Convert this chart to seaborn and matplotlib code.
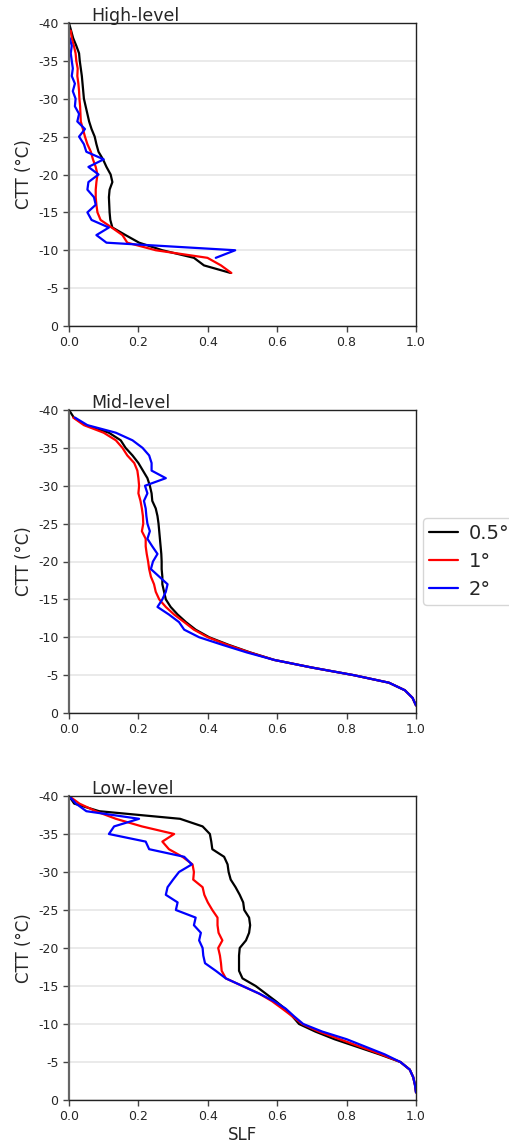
import numpy as np
import pandas as pd
import matplotlib
matplotlib.use("Agg")
import matplotlib.pyplot as plt
import seaborn as sns

# ---------------- data ----------------
resolutions = ["0.5°", "1°", "2°"]
colors = ["black", "red", "blue"]
panel_titles = ["High-level", "Mid-level", "Low-level"]
yticks = [0, -5, -10, -15, -20, -25, -30, -35, -40]
xticks = [0.0, 0.2, 0.4, 0.6, 0.8, 1.0]

# High-level
high_ctt_05 = list(range(-40, -6))
high_slf_05 = [0.000, 0.006, 0.012, 0.021, 0.029, 0.031, 0.034, 0.037, 0.039, 0.041,
               0.043, 0.048, 0.053, 0.058, 0.065, 0.074, 0.079, 0.085, 0.098, 0.108,
               0.120, 0.125, 0.117, 0.115, 0.116, 0.117, 0.119, 0.125, 0.163, 0.202,
               0.269, 0.360, 0.389, 0.466]
high_ctt_1 = list(range(-39, -6))
high_slf_1 = [0.005, 0.008, 0.014, 0.019, 0.021, 0.025, 0.024, 0.027, 0.029, 0.030,
              0.032, 0.033, 0.034, 0.040, 0.046, 0.053, 0.063, 0.069, 0.077, 0.082,
              0.079, 0.077, 0.077, 0.079, 0.082, 0.091, 0.123, 0.154, 0.168, 0.250,
              0.399, 0.438, 0.468]
high_ctt_2 = list(range(-38, -8))
high_slf_2 = [0.002, 0.008, 0.005, 0.008, 0.011, 0.008, 0.017, 0.011, 0.019, 0.017,
              0.029, 0.024, 0.046, 0.029, 0.043, 0.050, 0.100, 0.056, 0.085, 0.056,
              0.053, 0.072, 0.077, 0.053, 0.065, 0.115, 0.079, 0.108, 0.479, 0.423]

# Mid-level
mid_ctt_05 = list(range(-40, 0))
mid_slf_05 = [0.000, 0.014, 0.048, 0.115, 0.149, 0.163, 0.183, 0.200, 0.213, 0.226,
              0.233, 0.238, 0.240, 0.250, 0.255, 0.258, 0.260, 0.262, 0.264, 0.266,
              0.267, 0.267, 0.269, 0.269, 0.274, 0.279, 0.293, 0.313, 0.337, 0.365,
              0.404, 0.460, 0.522, 0.592, 0.700, 0.820, 0.922, 0.968, 0.990, 1.000]
mid_ctt_1 = list(range(-39, 0))
mid_slf_1 = [0.012, 0.043, 0.100, 0.135, 0.154, 0.168, 0.188, 0.197, 0.200, 0.202,
             0.200, 0.206, 0.210, 0.213, 0.214, 0.210, 0.221, 0.221, 0.224, 0.228,
             0.231, 0.236, 0.245, 0.250, 0.260, 0.279, 0.303, 0.332, 0.360, 0.400,
             0.456, 0.520, 0.592, 0.700, 0.820, 0.922, 0.968, 0.990, 1.000]
mid_ctt_2 = list(range(-39, 0))
mid_slf_2 = [0.017, 0.053, 0.135, 0.183, 0.212, 0.231, 0.238, 0.238, 0.279, 0.219,
             0.226, 0.216, 0.221, 0.223, 0.226, 0.233, 0.226, 0.240, 0.255, 0.242,
             0.236, 0.260, 0.284, 0.279, 0.269, 0.255, 0.288, 0.317, 0.332, 0.375,
             0.442, 0.512, 0.592, 0.700, 0.820, 0.922, 0.968, 0.990, 1.000]

# Low-level
low_ctt_05 = list(range(-40, 0))
low_slf_05 = [0.000, 0.015, 0.087, 0.320, 0.385, 0.406, 0.410, 0.413, 0.447, 0.457,
              0.460, 0.466, 0.480, 0.492, 0.502, 0.505, 0.519, 0.522, 0.519, 0.510,
              0.492, 0.490, 0.490, 0.490, 0.500, 0.538, 0.567, 0.596, 0.623, 0.644,
              0.663, 0.710, 0.765, 0.830, 0.895, 0.955, 0.982, 0.992, 0.997, 1.000]
low_ctt_1 = list(range(-40, 0))
low_slf_1 = [0.000, 0.030, 0.077, 0.135, 0.210, 0.303, 0.269, 0.288, 0.327, 0.356,
             0.360, 0.358, 0.385, 0.390, 0.400, 0.413, 0.428, 0.428, 0.431, 0.442,
             0.430, 0.435, 0.438, 0.440, 0.452, 0.500, 0.548, 0.585, 0.615, 0.644,
             0.672, 0.720, 0.780, 0.840, 0.900, 0.955, 0.982, 0.992, 0.997, 1.000]
low_ctt_2 = list(range(-40, 0))
low_slf_2 = [0.000, 0.020, 0.050, 0.202, 0.130, 0.115, 0.221, 0.231, 0.332, 0.354,
             0.317, 0.300, 0.284, 0.279, 0.313, 0.308, 0.365, 0.360, 0.380, 0.375,
             0.385, 0.387, 0.392, 0.423, 0.452, 0.500, 0.548, 0.591, 0.625, 0.649,
             0.675, 0.730, 0.800, 0.855, 0.910, 0.955, 0.982, 0.992, 0.997, 1.000]

panels = [
    [(high_ctt_05, high_slf_05), (high_ctt_1, high_slf_1), (high_ctt_2, high_slf_2)],
    [(mid_ctt_05, mid_slf_05), (mid_ctt_1, mid_slf_1), (mid_ctt_2, mid_slf_2)],
    [(low_ctt_05, low_slf_05), (low_ctt_1, low_slf_1), (low_ctt_2, low_slf_2)],
]

# ---------------- style ----------------
sns.set_style("ticks")
plt.rcParams["font.family"] = ["DejaVu Sans"]
plt.rcParams["axes.unicode_minus"] = False

fig = plt.figure(figsize=(5.09, 11.44), dpi=100)
W, H = 509, 1144
boxes = [(69, 23, 416, 326), (69, 410, 416, 713), (69, 796, 416, 1100)]
palette = dict(zip(resolutions, colors))

for i, (box, series) in enumerate(zip(boxes, panels)):
    l, t, r, b = box
    ax = fig.add_axes([l / W, 1 - b / H, (r - l) / W, (b - t) / H])
    frames = []
    for res, (ctt, slf) in zip(resolutions, series):
        frames.append(pd.DataFrame({"CTT": ctt, "SLF": slf, "res": res}))
    df = pd.concat(frames, ignore_index=True)
    df["res"] = pd.Categorical(df["res"], categories=resolutions, ordered=True)
    sns.lineplot(data=df, x="SLF", y="CTT", hue="res", palette=palette,
                 hue_order=resolutions, orient="y", estimator=None,
                 linewidth=1.6, ax=ax, legend=(i == 1))
    ax.set_xlim(0, 1)
    ax.set_ylim(0, -40)
    ax.set_yticks(yticks)
    ax.set_yticklabels([str(v) for v in yticks])
    ax.set_xticks(xticks)
    ax.set_xticklabels([f"{v:.1f}" for v in xticks])
    ax.tick_params(labelsize=9, length=4, width=1, color="#444444")
    ax.yaxis.grid(True, color="#e6e6e6", linewidth=1.2)
    ax.set_axisbelow(True)
    ax.set_ylabel("CTT (°C)", fontsize=12)
    ax.set_xlabel("SLF" if i == 2 else "", fontsize=12, labelpad=1.5)
    for side in ["top", "right", "bottom"]:
        ax.spines[side].set_color("#222222")
        ax.spines[side].set_linewidth(1.0)
    ax.spines["left"].set_color("#666666")
    ax.spines["left"].set_linewidth(1.6)
    ax.text(0.063, 1.006, panel_titles[i], transform=ax.transAxes,
            fontsize=12.5, va="baseline", ha="left")
    if i == 1:
        leg = ax.legend(loc="center left", bbox_to_anchor=(1.02, 0.5),
                        borderaxespad=0.0, fontsize=14, title=None,
                        handlelength=1.5, handletextpad=0.55, borderpad=0.3,
                        labelspacing=0.45)

fig.savefig("out.png", dpi=100)
